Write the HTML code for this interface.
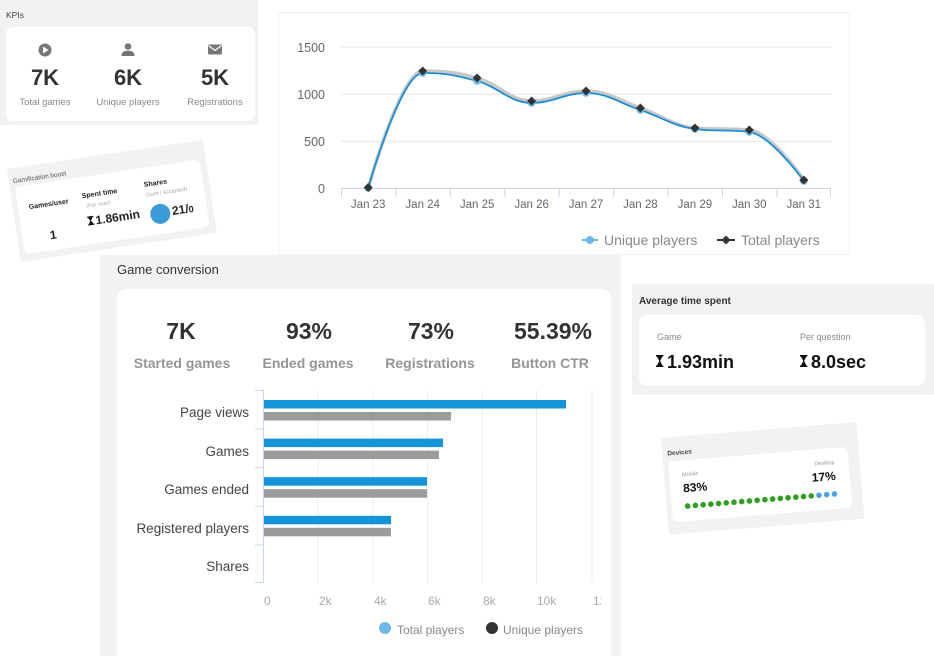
<!DOCTYPE html>
<html><head><meta charset="utf-8"><style>html,body{margin:0;padding:0;background:#fff;}svg{display:block;}</style></head>
<body>
<svg width="934" height="656" viewBox="0 0 934 656" xmlns="http://www.w3.org/2000/svg" font-family="'Liberation Sans', sans-serif">
<defs>
<clipPath id="xclip"><rect x="250" y="590" width="351" height="20"/></clipPath>
<g id="hg"><path d="M0,0 H7 V1.3 H6.1 L3.9,5 L6.1,8.7 H7 V10 H0 V8.7 H0.9 L3.1,5 L0.9,1.3 H0 Z" fill="#111"/></g>
</defs>

<!-- KPI panel -->
<rect x="0" y="0" width="258" height="125" fill="#f2f2f2"/>
<rect x="6" y="27" width="249" height="94" rx="7" fill="#fff"/>
<text x="6" y="18" font-size="8.5" fill="#444">KPIs</text>
<circle cx="45" cy="50" r="6.5" fill="#777"/><path d="M43,46.5 L48.5,50 L43,53.5Z" fill="#fff"/>
<circle cx="128" cy="46.5" r="3.3" fill="#777"/><path d="M121.5,56 C121.5,51.5 124.5,50.8 128,50.8 C131.5,50.8 134.5,51.5 134.5,56 Z" fill="#777"/>
<rect x="208" y="44.5" width="14" height="10" rx="1" fill="#777"/><path d="M208.5,45.5 L215,50.5 L221.5,45.5" stroke="#fff" fill="none" stroke-width="1.2"/>
<g font-size="22" font-weight="bold" fill="#333" text-anchor="middle">
<text x="45" y="85">7K</text><text x="128" y="85">6K</text><text x="215" y="85">5K</text>
</g>
<g font-size="9.5" fill="#888" text-anchor="middle">
<text x="45" y="105">Total games</text><text x="128" y="105">Unique players</text><text x="215" y="105">Registrations</text>
</g>

<!-- Gamification panel (rotated) -->
<g transform="translate(7,169) rotate(-8.5)">
<rect x="0" y="0" width="198" height="94" fill="#f2f2f2"/>
<rect x="5" y="19" width="187" height="68" rx="5" fill="#fff"/>
<text x="4" y="15" font-size="6.5" fill="#555">Gamification boost</text>
<text x="36" y="43" font-size="7" font-weight="bold" fill="#222" text-anchor="middle">Games/user</text>
<text x="36" y="76" font-size="12" font-weight="bold" fill="#222" text-anchor="middle">1</text>
<text x="70" y="40" font-size="7" font-weight="bold" fill="#222">Spent time</text>
<text x="73" y="50" font-size="5.5" fill="#aaa">(Per user)</text>
<use href="#hg" transform="translate(72,59) scale(0.9)"/>
<text x="80" y="68" font-size="12" font-weight="bold" fill="#222">1.86min</text>
<text x="133" y="38" font-size="7" font-weight="bold" fill="#222">Shares</text>
<text x="133" y="48" font-size="5.5" fill="#aaa">(Sent / Accepted)</text>
<circle cx="145" cy="67" r="10" fill="#3d9ad8"/>
<text x="157" y="70" font-size="12" font-weight="bold" fill="#222">21/<tspan font-size="9">0</tspan></text>
</g>

<!-- Line chart panel -->
<rect x="278.5" y="12.5" width="571" height="242" fill="#fff" stroke="#f2f2f2"/>
<g stroke="#e6e6e6" stroke-width="1">
<line x1="341" y1="47" x2="831" y2="47"/>
<line x1="341" y1="94.3" x2="831" y2="94.3"/>
<line x1="341" y1="141.2" x2="831" y2="141.2"/>
</g>
<line x1="341" y1="188.5" x2="831" y2="188.5" stroke="#ccd6eb"/>
<g stroke="#ccd6eb">
<line x1="341.5" y1="188" x2="341.5" y2="197"/><line x1="396" y1="188" x2="396" y2="197"/><line x1="450.4" y1="188" x2="450.4" y2="197"/><line x1="504.8" y1="188" x2="504.8" y2="197"/><line x1="559.2" y1="188" x2="559.2" y2="197"/><line x1="613.7" y1="188" x2="613.7" y2="197"/><line x1="668.1" y1="188" x2="668.1" y2="197"/><line x1="722.5" y1="188" x2="722.5" y2="197"/><line x1="777" y1="188" x2="777" y2="197"/><line x1="830.5" y1="188" x2="830.5" y2="197"/>
</g>
<g font-size="12.5" fill="#666" text-anchor="end">
<text x="325" y="52">1500</text><text x="325" y="99">1000</text><text x="325" y="146">500</text><text x="325" y="193">0</text>
</g>
<g font-size="11.5" fill="#666" text-anchor="middle">
<text x="368.2" y="208">Jan 23</text><text x="422.7" y="208">Jan 24</text><text x="477.1" y="208">Jan 25</text><text x="531.6" y="208">Jan 26</text><text x="586" y="208">Jan 27</text><text x="640.4" y="208">Jan 28</text><text x="694.9" y="208">Jan 29</text><text x="749.3" y="208">Jan 30</text><text x="803.8" y="208">Jan 31</text>
</g>
<path d="M368.2,188 C368.2,188 400.9,71 422.7,71 C444.5,71 455.3,72 477.1,78 C498.9,84 509.8,101 531.6,101 C553.4,101 564.2,91 586,91 C607.8,91 618.6,100.6 640.4,108 C662.2,115.4 673.1,126 694.9,128 C716.7,130 727.5,128 749.3,130 C771.1,132 803.8,180 803.8,180" fill="none" stroke="#c8c8c8" stroke-width="3.5"/>
<path d="M368.2,188 C368.2,188 400.9,73 422.7,73 C444.5,73 455.3,75 477.1,81 C498.9,87 509.8,103 531.6,103 C553.4,103 564.2,93 586,93 C607.8,93 618.6,102.8 640.4,110 C662.2,117.2 673.1,126 694.9,129 C716.7,132 727.5,129 749.3,132 C771.1,135 803.8,181 803.8,181" fill="none" stroke="#1a8fd6" stroke-width="1.8"/>
<g fill="#6db8e8">
<circle cx="368.2" cy="188" r="3.8"/><circle cx="422.7" cy="73" r="3.8"/><circle cx="477.1" cy="81" r="3.8"/><circle cx="531.6" cy="103" r="3.8"/><circle cx="586" cy="93" r="3.8"/><circle cx="640.4" cy="110" r="3.8"/><circle cx="694.9" cy="129" r="3.8"/><circle cx="749.3" cy="132" r="3.8"/><circle cx="803.8" cy="181" r="3.8"/>
</g>
<g fill="#333">
<path d="M368.2,183 l4.5,4.5 l-4.5,4.5 l-4.5,-4.5z"/>
<path d="M422.7,66.5 l4.5,4.5 l-4.5,4.5 l-4.5,-4.5z"/>
<path d="M477.1,73.5 l4.5,4.5 l-4.5,4.5 l-4.5,-4.5z"/>
<path d="M531.6,96.5 l4.5,4.5 l-4.5,4.5 l-4.5,-4.5z"/>
<path d="M586,86.5 l4.5,4.5 l-4.5,4.5 l-4.5,-4.5z"/>
<path d="M640.4,103.5 l4.5,4.5 l-4.5,4.5 l-4.5,-4.5z"/>
<path d="M694.9,123.5 l4.5,4.5 l-4.5,4.5 l-4.5,-4.5z"/>
<path d="M749.3,125.5 l4.5,4.5 l-4.5,4.5 l-4.5,-4.5z"/>
<path d="M803.8,175.5 l4.5,4.5 l-4.5,4.5 l-4.5,-4.5z"/>
</g>
<line x1="582" y1="240" x2="598" y2="240" stroke="#6db8e8" stroke-width="2"/>
<circle cx="590" cy="240" r="4" fill="#6db8e8"/>
<text x="604" y="245" font-size="14" fill="#888">Unique players</text>
<line x1="717" y1="240" x2="735" y2="240" stroke="#333" stroke-width="2"/>
<path d="M726,235.5 l4.5,4.5 l-4.5,4.5 l-4.5,-4.5z" fill="#333"/>
<text x="741" y="245" font-size="14" fill="#888">Total players</text>

<!-- Game conversion -->
<rect x="100" y="255" width="521" height="401" fill="#f2f2f2"/>
<rect x="117" y="289" width="494" height="380" rx="10" fill="#fff"/>
<text x="117" y="274" font-size="13" fill="#333">Game conversion</text>
<g font-size="23" font-weight="bold" fill="#333" text-anchor="middle">
<text x="181" y="339">7K</text><text x="309" y="339">93%</text><text x="431" y="339">73%</text><text x="553" y="339">55.39%</text>
</g>
<g font-size="14" font-weight="600" fill="#959595" text-anchor="middle">
<text x="182" y="368">Started games</text><text x="308" y="368">Ended games</text><text x="430" y="368">Registrations</text><text x="550" y="368">Button CTR</text>
</g>
<g stroke="#eeeeee">
<line x1="318" y1="390" x2="318" y2="583"/><line x1="373" y1="390" x2="373" y2="583"/><line x1="427.5" y1="390" x2="427.5" y2="583"/><line x1="482" y1="390" x2="482" y2="583"/><line x1="536.5" y1="390" x2="536.5" y2="583"/><line x1="592" y1="390" x2="592" y2="583"/>
</g>
<g stroke="#ccd6eb">
<line x1="263.5" y1="390" x2="263.5" y2="583"/>
<line x1="255" y1="390.5" x2="263" y2="390.5"/><line x1="255" y1="429.1" x2="263" y2="429.1"/><line x1="255" y1="467.7" x2="263" y2="467.7"/><line x1="255" y1="506.3" x2="263" y2="506.3"/><line x1="255" y1="544.9" x2="263" y2="544.9"/><line x1="255" y1="582.5" x2="263" y2="582.5"/>
</g>
<g fill="#1296d9">
<rect x="264" y="400" width="302" height="8.5"/>
<rect x="264" y="438.6" width="179" height="8.5"/>
<rect x="264" y="477.2" width="163" height="8.5"/>
<rect x="264" y="515.8" width="127" height="8.5"/>
</g>
<g fill="#9b9b9b">
<rect x="264" y="412" width="187" height="8.5"/>
<rect x="264" y="450.6" width="175" height="8.5"/>
<rect x="264" y="489.2" width="163" height="8.5"/>
<rect x="264" y="527.8" width="127" height="8.5"/>
</g>
<g font-size="13.5" fill="#444" text-anchor="end">
<text x="249" y="417">Page views</text><text x="249" y="456">Games</text><text x="249" y="494">Games ended</text><text x="249" y="533">Registered players</text><text x="249" y="571">Shares</text>
</g>
<g font-size="12" fill="#aaa" clip-path="url(#xclip)">
<text x="264" y="605">0</text><text x="319" y="605">2k</text><text x="374" y="605">4k</text><text x="428" y="605">6k</text><text x="483" y="605">8k</text><text x="537" y="605">10k</text><text x="593" y="605">12k</text>
</g>
<circle cx="385" cy="628" r="6" fill="#6db8e8"/>
<text x="397" y="634" font-size="12" fill="#888">Total players</text>
<circle cx="492" cy="628" r="6" fill="#333"/>
<text x="503" y="634" font-size="12" fill="#888">Unique players</text>

<!-- Average time spent -->
<rect x="632" y="284" width="302" height="111" fill="#f2f2f2"/>
<rect x="639" y="315" width="286" height="71" rx="8" fill="#fff"/>
<text x="639" y="304" font-size="10" font-weight="bold" fill="#333">Average time spent</text>
<text x="657" y="340" font-size="9" fill="#888">Game</text>
<text x="800" y="340" font-size="9" fill="#888">Per question</text>
<use href="#hg" transform="translate(656,355) scale(1.05,1.2)"/>
<text x="667" y="368" font-size="18" font-weight="bold" fill="#111">1.93min</text>
<use href="#hg" transform="translate(800,355) scale(1.05,1.2)"/>
<text x="811" y="368" font-size="18" font-weight="bold" fill="#111">8.0sec</text>

<!-- Devices (rotated) -->
<g transform="translate(661,438) rotate(-4.7)">
<rect x="0" y="0" width="196" height="97" fill="#f2f2f2"/>
<rect x="5" y="24" width="180" height="61" rx="5" fill="#fff"/>
<text x="5" y="18" font-size="6.5" font-weight="bold" fill="#444">Devices</text>
<text x="18" y="40" font-size="5.5" fill="#999">Mobile</text>
<text x="18" y="56" font-size="12" font-weight="bold" fill="#111">83%</text>
<text x="171" y="40" font-size="5.5" fill="#999" text-anchor="end">Desktop</text>
<text x="171" y="56" font-size="12" font-weight="bold" fill="#111" text-anchor="end">17%</text>
<g fill="#2e9e1f">
<circle cx="21" cy="70" r="2.8"/><circle cx="28.75" cy="70" r="2.8"/><circle cx="36.5" cy="70" r="2.8"/><circle cx="44.25" cy="70" r="2.8"/><circle cx="52" cy="70" r="2.8"/><circle cx="59.75" cy="70" r="2.8"/><circle cx="67.5" cy="70" r="2.8"/><circle cx="75.25" cy="70" r="2.8"/><circle cx="83" cy="70" r="2.8"/><circle cx="90.75" cy="70" r="2.8"/><circle cx="98.5" cy="70" r="2.8"/><circle cx="106.25" cy="70" r="2.8"/><circle cx="114" cy="70" r="2.8"/><circle cx="121.75" cy="70" r="2.8"/><circle cx="129.5" cy="70" r="2.8"/><circle cx="137.25" cy="70" r="2.8"/><circle cx="145" cy="70" r="2.8"/>
</g>
<g fill="#4aa3df">
<circle cx="152.75" cy="70" r="2.8"/><circle cx="160.5" cy="70" r="2.8"/><circle cx="168.25" cy="70" r="2.8"/>
</g>
</g>
</svg>
</body></html>
